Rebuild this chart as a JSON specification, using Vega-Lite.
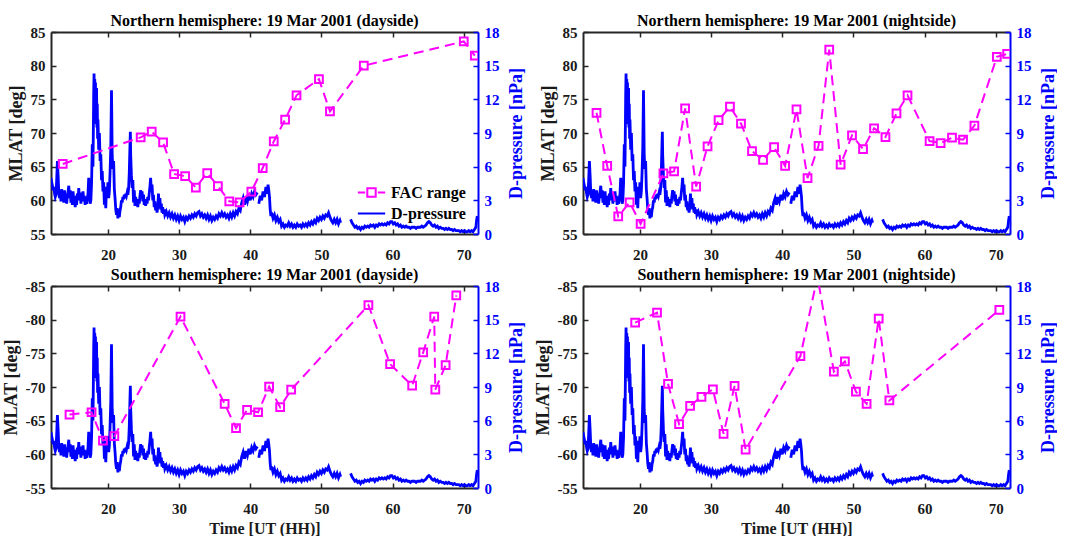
{
"$schema": "https://vega.github.io/schema/vega-lite/v6.json",
"padding": {"left": 2, "top": 13, "right": 0, "bottom": 0},
"columns": 2,
"spacing": {"row": 5, "column": 9},
"resolve": {"scale": {"x": "independent", "y": "independent", "color": "independent"}},
"config": {
  "view": {"stroke": null},
  "font": "Liberation Serif",
  "axis": {"grid": false, "labelFont": "Liberation Serif", "labelFontSize": 15, "labelFontWeight": "bold", "labelColor": "#1a1a1a", "titleFont": "Liberation Serif", "titleFontWeight": "bold", "titleColor": "#1a1a1a", "domainColor": "#262626", "domainWidth": 2, "tickColor": "#262626", "tickWidth": 1.5, "tickSize": -5, "labelPadding": 11},
  "axisX": {"labelPadding": 18, "titleFontSize": 16, "titlePadding": 4},
  "axisY": {"titleFontSize": 18, "titlePadding": 5},
  "title": {"font": "Liberation Serif", "fontSize": 16, "fontWeight": "bold", "color": "#000000", "offset": -4, "frame": "group", "anchor": "middle"}
},
"datasets": {
"dp": [
{"t":12.0,"p":5.0,"s":"a"},{"t":12.1,"p":4.6,"s":"a"},{"t":12.2,"p":4.3,"s":"a"},{"t":12.3,"p":3.9,"s":"a"},{"t":12.4,"p":4.2,"s":"a"},{"t":12.5,"p":3.6,"s":"a"},{"t":12.6,"p":3.3,"s":"a"},{"t":12.7,"p":3.5,"s":"a"},{"t":12.8,"p":4.8,"s":"a"},{"t":12.9,"p":6.5,"s":"a"},
{"t":13.0,"p":5.2,"s":"a"},{"t":13.1,"p":3.6,"s":"a"},{"t":13.2,"p":3.2,"s":"a"},{"t":13.3,"p":3.9,"s":"a"},{"t":13.4,"p":2.9,"s":"a"},{"t":13.5,"p":4.0,"s":"a"},{"t":13.6,"p":3.1,"s":"a"},{"t":13.7,"p":3.7,"s":"a"},{"t":13.8,"p":2.8,"s":"a"},{"t":13.9,"p":3.9,"s":"a"},
{"t":14.0,"p":3.0,"s":"a"},{"t":14.1,"p":3.6,"s":"a"},{"t":14.2,"p":2.7,"s":"a"},{"t":14.3,"p":3.4,"s":"a"},{"t":14.4,"p":3.8,"s":"a"},{"t":14.5,"p":4.3,"s":"a"},{"t":14.6,"p":3.2,"s":"a"},{"t":14.7,"p":3.9,"s":"a"},{"t":14.8,"p":2.8,"s":"a"},{"t":14.9,"p":3.5,"s":"a"},
{"t":15.0,"p":2.6,"s":"a"},{"t":15.1,"p":3.8,"s":"a"},{"t":15.2,"p":2.9,"s":"a"},{"t":15.3,"p":3.4,"s":"a"},{"t":15.4,"p":2.4,"s":"a"},{"t":15.5,"p":3.2,"s":"a"},{"t":15.6,"p":2.6,"s":"a"},{"t":15.7,"p":3.6,"s":"a"},{"t":15.8,"p":3.0,"s":"a"},{"t":15.9,"p":4.1,"s":"a"},
{"t":16.0,"p":3.1,"s":"a"},{"t":16.1,"p":3.7,"s":"a"},{"t":16.2,"p":2.7,"s":"a"},{"t":16.3,"p":3.5,"s":"a"},{"t":16.4,"p":2.9,"s":"a"},{"t":16.5,"p":3.8,"s":"a"},{"t":16.6,"p":3.0,"s":"a"},{"t":16.7,"p":3.4,"s":"a"},{"t":16.8,"p":2.6,"s":"a"},{"t":16.9,"p":3.3,"s":"a"},
{"t":17.0,"p":2.7,"s":"a"},{"t":17.1,"p":3.2,"s":"a"},{"t":17.2,"p":3.6,"s":"a"},{"t":17.3,"p":5.0,"s":"a"},{"t":17.4,"p":3.3,"s":"a"},{"t":17.5,"p":2.7,"s":"a"},{"t":17.6,"p":3.0,"s":"a"},{"t":17.7,"p":4.5,"s":"a"},{"t":17.8,"p":8.0,"s":"a"},{"t":17.9,"p":6.0,"s":"a"},
{"t":18.0,"p":12.5,"s":"a"},{"t":18.05,"p":14.3,"s":"a"},{"t":18.1,"p":11.0,"s":"a"},{"t":18.15,"p":13.8,"s":"a"},{"t":18.2,"p":10.5,"s":"a"},{"t":18.25,"p":13.5,"s":"a"},{"t":18.3,"p":9.8,"s":"a"},{"t":18.35,"p":12.0,"s":"a"},{"t":18.4,"p":13.0,"s":"a"},{"t":18.45,"p":9.5,"s":"a"},
{"t":18.5,"p":11.6,"s":"a"},{"t":18.55,"p":8.5,"s":"a"},{"t":18.6,"p":10.2,"s":"a"},{"t":18.7,"p":7.5,"s":"a"},{"t":18.8,"p":9.0,"s":"a"},{"t":18.9,"p":6.5,"s":"a"},{"t":19.0,"p":7.1,"s":"a"},{"t":19.1,"p":4.8,"s":"a"},{"t":19.2,"p":5.6,"s":"a"},{"t":19.3,"p":3.8,"s":"a"},
{"t":19.4,"p":4.6,"s":"a"},{"t":19.5,"p":2.6,"s":"a"},{"t":19.6,"p":3.3,"s":"a"},{"t":19.7,"p":2.3,"s":"a"},{"t":19.8,"p":4.2,"s":"a"},{"t":19.9,"p":3.4,"s":"a"},{"t":20.0,"p":4.6,"s":"a"},{"t":20.1,"p":3.2,"s":"a"},{"t":20.2,"p":3.8,"s":"a"},{"t":20.3,"p":5.5,"s":"a"},
{"t":20.4,"p":7.7,"s":"a"},{"t":20.5,"p":12.8,"s":"a"},{"t":20.55,"p":10.0,"s":"a"},{"t":20.6,"p":7.0,"s":"a"},{"t":20.7,"p":5.8,"s":"a"},{"t":20.8,"p":6.5,"s":"a"},{"t":20.9,"p":4.0,"s":"a"},{"t":21.0,"p":3.2,"s":"a"},{"t":21.1,"p":2.2,"s":"a"},{"t":21.2,"p":1.7,"s":"a"},
{"t":21.3,"p":2.3,"s":"a"},{"t":21.4,"p":1.4,"s":"a"},{"t":21.5,"p":1.8,"s":"a"},{"t":21.6,"p":1.5,"s":"a"},{"t":21.7,"p":2.1,"s":"a"},{"t":21.8,"p":2.4,"s":"a"},{"t":21.9,"p":3.0,"s":"a"},{"t":22.0,"p":2.8,"s":"a"},{"t":22.1,"p":3.3,"s":"a"},{"t":22.2,"p":3.1,"s":"a"},
{"t":22.3,"p":3.5,"s":"a"},{"t":22.4,"p":3.2,"s":"a"},{"t":22.5,"p":3.6,"s":"a"},{"t":22.6,"p":3.4,"s":"a"},{"t":22.7,"p":3.7,"s":"a"},{"t":22.8,"p":3.5,"s":"a"},{"t":22.9,"p":4.0,"s":"a"},{"t":23.0,"p":5.5,"s":"a"},{"t":23.1,"p":8.0,"s":"a"},{"t":23.15,"p":9.1,"s":"a"},
{"t":23.2,"p":7.0,"s":"a"},{"t":23.3,"p":5.2,"s":"a"},{"t":23.4,"p":4.1,"s":"a"},{"t":23.5,"p":4.8,"s":"a"},{"t":23.6,"p":2.8,"s":"a"},{"t":23.7,"p":3.9,"s":"a"},{"t":23.8,"p":2.5,"s":"a"},{"t":23.9,"p":3.3,"s":"a"},{"t":24.0,"p":2.6,"s":"a"},{"t":24.1,"p":3.0,"s":"a"},
{"t":24.2,"p":2.4,"s":"a"},{"t":24.3,"p":3.1,"s":"a"},{"t":24.4,"p":2.7,"s":"a"},{"t":24.5,"p":3.4,"s":"a"},{"t":24.6,"p":3.9,"s":"a"},{"t":24.7,"p":3.2,"s":"a"},{"t":24.8,"p":3.8,"s":"a"},{"t":24.9,"p":2.9,"s":"a"},{"t":25.0,"p":3.5,"s":"a"},{"t":25.1,"p":2.6,"s":"a"},
{"t":25.2,"p":3.1,"s":"a"},{"t":25.3,"p":2.5,"s":"a"},{"t":25.4,"p":3.0,"s":"a"},{"t":25.5,"p":2.7,"s":"a"},{"t":25.6,"p":3.3,"s":"a"},{"t":25.7,"p":3.0,"s":"a"},{"t":25.8,"p":3.6,"s":"a"},{"t":25.9,"p":4.2,"s":"a"},{"t":26.0,"p":5.0,"s":"a"},{"t":26.1,"p":3.8,"s":"a"},
{"t":26.2,"p":4.4,"s":"a"},{"t":26.3,"p":3.0,"s":"a"},{"t":26.4,"p":3.5,"s":"a"},{"t":26.5,"p":2.4,"s":"a"},{"t":26.6,"p":2.9,"s":"a"},{"t":26.7,"p":2.1,"s":"a"},{"t":26.8,"p":2.6,"s":"a"},{"t":26.9,"p":1.9,"s":"a"},{"t":27.0,"p":2.4,"s":"a"},{"t":27.1,"p":3.6,"s":"a"},
{"t":27.2,"p":2.5,"s":"a"},{"t":27.3,"p":3.2,"s":"a"},{"t":27.4,"p":2.2,"s":"a"},{"t":27.5,"p":2.7,"s":"a"},{"t":27.6,"p":1.9,"s":"a"},{"t":27.7,"p":2.4,"s":"a"},{"t":27.8,"p":1.8,"s":"a"},{"t":27.9,"p":2.2,"s":"a"},{"t":28.0,"p":1.7,"s":"a"},
{"t":28.2,"p":2.0,"s":"a"},{"t":28.4,"p":1.6,"s":"a"},{"t":28.6,"p":1.9,"s":"a"},{"t":28.8,"p":1.5,"s":"a"},{"t":29.0,"p":1.8,"s":"a"},{"t":29.2,"p":1.4,"s":"a"},{"t":29.4,"p":1.7,"s":"a"},{"t":29.6,"p":1.3,"s":"a"},{"t":29.8,"p":1.6,"s":"a"},{"t":30.0,"p":1.2,"s":"a"},
{"t":30.2,"p":1.6,"s":"a"},{"t":30.4,"p":1.3,"s":"a"},{"t":30.6,"p":1.5,"s":"a"},{"t":30.8,"p":1.1,"s":"a"},{"t":31.0,"p":1.5,"s":"a"},{"t":31.2,"p":1.3,"s":"a"},{"t":31.4,"p":1.6,"s":"a"},{"t":31.6,"p":1.4,"s":"a"},{"t":31.8,"p":1.7,"s":"a"},{"t":32.0,"p":1.5,"s":"a"},
{"t":32.2,"p":1.8,"s":"a"},{"t":32.4,"p":1.6,"s":"a"},{"t":32.6,"p":1.9,"s":"a"},{"t":32.8,"p":2.0,"s":"a"},{"t":33.0,"p":1.6,"s":"a"},{"t":33.2,"p":1.8,"s":"a"},{"t":33.4,"p":1.5,"s":"a"},{"t":33.6,"p":1.7,"s":"a"},{"t":33.8,"p":1.4,"s":"a"},{"t":34.0,"p":1.7,"s":"a"},
{"t":34.2,"p":1.3,"s":"a"},{"t":34.4,"p":1.6,"s":"a"},{"t":34.6,"p":1.2,"s":"a"},{"t":34.8,"p":1.5,"s":"a"},{"t":35.0,"p":1.3,"s":"a"},{"t":35.2,"p":1.6,"s":"a"},{"t":35.4,"p":1.4,"s":"a"},{"t":35.6,"p":1.8,"s":"a"},{"t":35.8,"p":1.6,"s":"a"},{"t":36.0,"p":1.9,"s":"a"},
{"t":36.2,"p":1.6,"s":"a"},{"t":36.4,"p":1.8,"s":"a"},{"t":36.6,"p":1.5,"s":"a"},{"t":36.8,"p":1.7,"s":"a"},{"t":37.0,"p":1.4,"s":"a"},{"t":37.2,"p":1.8,"s":"a"},{"t":37.4,"p":1.5,"s":"a"},{"t":37.6,"p":1.9,"s":"a"},{"t":37.8,"p":1.6,"s":"a"},{"t":38.0,"p":2.0,"s":"a"},
{"t":38.2,"p":1.8,"s":"a"},{"t":38.4,"p":2.3,"s":"a"},{"t":38.6,"p":2.1,"s":"a"},{"t":38.8,"p":2.8,"s":"a"},{"t":39.0,"p":3.2,"s":"a"},{"t":39.2,"p":2.6,"s":"a"},{"t":39.4,"p":3.3,"s":"a"},{"t":39.6,"p":2.9,"s":"a"},{"t":39.8,"p":3.5,"s":"a"},{"t":40.0,"p":3.0,"s":"a"},
{"t":40.2,"p":3.6,"s":"a"},{"t":40.4,"p":3.3,"s":"a"},{"t":40.6,"p":3.8,"s":"a"},{"t":40.8,"p":3.5,"s":"a"},{"t":41.0,"p":3.7,"s":"a"},
{"t":41.2,"p":2.7,"s":"b"},{"t":41.4,"p":3.4,"s":"b"},{"t":41.6,"p":3.0,"s":"b"},{"t":41.8,"p":3.8,"s":"b"},{"t":42.0,"p":3.3,"s":"b"},{"t":42.2,"p":4.2,"s":"b"},{"t":42.4,"p":3.6,"s":"b"},{"t":42.5,"p":4.4,"s":"b"},{"t":42.6,"p":3.9,"s":"b"},{"t":42.7,"p":3.3,"s":"b"},
{"t":42.8,"p":2.2,"s":"b"},{"t":42.9,"p":1.6,"s":"b"},{"t":43.0,"p":1.9,"s":"b"},{"t":43.2,"p":1.4,"s":"b"},{"t":43.4,"p":1.7,"s":"b"},{"t":43.6,"p":1.2,"s":"b"},{"t":43.8,"p":1.5,"s":"b"},{"t":44.0,"p":1.1,"s":"b"},{"t":44.2,"p":1.3,"s":"b"},{"t":44.4,"p":0.7,"s":"b"},
{"t":44.6,"p":0.9,"s":"b"},{"t":44.8,"p":0.6,"s":"b"},{"t":45.0,"p":0.8,"s":"b"},{"t":45.2,"p":0.7,"s":"b"},{"t":45.4,"p":1.0,"s":"b"},{"t":45.6,"p":0.7,"s":"b"},{"t":45.8,"p":0.9,"s":"b"},{"t":46.0,"p":0.6,"s":"b"},{"t":46.2,"p":0.8,"s":"b"},{"t":46.4,"p":0.6,"s":"b"},
{"t":46.6,"p":0.9,"s":"b"},{"t":46.8,"p":0.7,"s":"b"},{"t":47.0,"p":0.8,"s":"b"},{"t":47.2,"p":0.6,"s":"b"},{"t":47.4,"p":0.9,"s":"b"},{"t":47.6,"p":0.7,"s":"b"},{"t":47.8,"p":0.9,"s":"b"},{"t":48.0,"p":0.7,"s":"b"},{"t":48.2,"p":1.0,"s":"b"},{"t":48.4,"p":0.8,"s":"b"},
{"t":48.6,"p":1.1,"s":"b"},{"t":48.8,"p":0.9,"s":"b"},{"t":49.0,"p":1.2,"s":"b"},{"t":49.2,"p":1.0,"s":"b"},{"t":49.4,"p":1.4,"s":"b"},{"t":49.6,"p":1.2,"s":"b"},{"t":49.8,"p":1.5,"s":"b"},{"t":50.0,"p":1.3,"s":"b"},{"t":50.2,"p":1.6,"s":"b"},{"t":50.4,"p":1.4,"s":"b"},
{"t":50.6,"p":1.7,"s":"b"},{"t":50.8,"p":1.6,"s":"b"},{"t":51.0,"p":1.9,"s":"b"},{"t":51.2,"p":1.5,"s":"b"},{"t":51.4,"p":1.2,"s":"b"},{"t":51.6,"p":1.0,"s":"b"},{"t":51.8,"p":1.3,"s":"b"},{"t":52.0,"p":1.0,"s":"b"},{"t":52.2,"p":1.3,"s":"b"},{"t":52.4,"p":0.9,"s":"b"},
{"t":52.6,"p":1.2,"s":"b"},{"t":52.7,"p":1.0,"s":"b"},
{"t":54.1,"p":1.3,"s":"c"},{"t":54.3,"p":1.0,"s":"c"},{"t":54.5,"p":0.8,"s":"c"},{"t":54.7,"p":0.6,"s":"c"},{"t":54.9,"p":0.7,"s":"c"},{"t":55.1,"p":0.5,"s":"c"},{"t":55.3,"p":0.6,"s":"c"},{"t":55.5,"p":0.4,"s":"c"},{"t":55.7,"p":0.6,"s":"c"},{"t":55.9,"p":0.5,"s":"c"},
{"t":56.1,"p":0.7,"s":"c"},{"t":56.3,"p":0.6,"s":"c"},{"t":56.5,"p":0.7,"s":"c"},{"t":56.7,"p":0.6,"s":"c"},{"t":56.9,"p":0.8,"s":"c"},{"t":57.1,"p":0.7,"s":"c"},{"t":57.3,"p":0.8,"s":"c"},{"t":57.5,"p":0.6,"s":"c"},{"t":57.7,"p":0.8,"s":"c"},{"t":57.9,"p":0.7,"s":"c"},
{"t":58.1,"p":0.9,"s":"c"},{"t":58.3,"p":0.8,"s":"c"},{"t":58.5,"p":0.9,"s":"c"},{"t":58.7,"p":0.8,"s":"c"},{"t":58.9,"p":0.9,"s":"c"},{"t":59.1,"p":0.8,"s":"c"},{"t":59.3,"p":1.0,"s":"c"},{"t":59.5,"p":0.9,"s":"c"},{"t":59.7,"p":1.1,"s":"c"},{"t":59.9,"p":1.1,"s":"c"},
{"t":60.1,"p":0.9,"s":"c"},{"t":60.3,"p":1.0,"s":"c"},{"t":60.5,"p":0.8,"s":"c"},{"t":60.7,"p":0.9,"s":"c"},{"t":60.9,"p":0.7,"s":"c"},{"t":61.1,"p":0.8,"s":"c"},{"t":61.3,"p":0.6,"s":"c"},{"t":61.5,"p":0.7,"s":"c"},{"t":61.7,"p":0.6,"s":"c"},{"t":61.9,"p":0.7,"s":"c"},
{"t":62.1,"p":0.6,"s":"c"},{"t":62.3,"p":0.6,"s":"c"},{"t":62.5,"p":0.5,"s":"c"},{"t":62.7,"p":0.6,"s":"c"},{"t":62.9,"p":0.6,"s":"c"},{"t":63.1,"p":0.6,"s":"c"},{"t":63.3,"p":0.5,"s":"c"},{"t":63.5,"p":0.6,"s":"c"},{"t":63.7,"p":0.6,"s":"c"},{"t":63.9,"p":0.6,"s":"c"},
{"t":64.1,"p":0.7,"s":"c"},{"t":64.3,"p":0.6,"s":"c"},{"t":64.5,"p":0.7,"s":"c"},{"t":64.7,"p":0.8,"s":"c"},{"t":64.9,"p":1.0,"s":"c"},{"t":65.1,"p":1.1,"s":"c"},{"t":65.3,"p":1.0,"s":"c"},{"t":65.5,"p":0.8,"s":"c"},{"t":65.7,"p":0.7,"s":"c"},{"t":65.9,"p":0.8,"s":"c"},
{"t":66.1,"p":0.6,"s":"c"},{"t":66.3,"p":0.7,"s":"c"},{"t":66.5,"p":0.5,"s":"c"},{"t":66.7,"p":0.6,"s":"c"},{"t":66.9,"p":0.5,"s":"c"},{"t":67.1,"p":0.5,"s":"c"},{"t":67.3,"p":0.4,"s":"c"},{"t":67.5,"p":0.5,"s":"c"},{"t":67.7,"p":0.4,"s":"c"},{"t":67.9,"p":0.5,"s":"c"},
{"t":68.1,"p":0.4,"s":"c"},{"t":68.3,"p":0.4,"s":"c"},{"t":68.5,"p":0.3,"s":"c"},{"t":68.7,"p":0.4,"s":"c"},{"t":68.9,"p":0.3,"s":"c"},{"t":69.1,"p":0.3,"s":"c"},{"t":69.3,"p":0.3,"s":"c"},{"t":69.5,"p":0.2,"s":"c"},{"t":69.7,"p":0.3,"s":"c"},{"t":69.9,"p":0.2,"s":"c"},
{"t":70.1,"p":0.3,"s":"c"},{"t":70.3,"p":0.2,"s":"c"},{"t":70.5,"p":0.2,"s":"c"},{"t":70.7,"p":0.3,"s":"c"},{"t":70.9,"p":0.2,"s":"c"},{"t":71.1,"p":0.3,"s":"c"},{"t":71.3,"p":0.2,"s":"c"},{"t":71.5,"p":0.4,"s":"c"},{"t":71.7,"p":0.6,"s":"c"},{"t":71.8,"p":1.2,"s":"c"},{"t":71.9,"p":1.6,"s":"c"}
],
"fac": [
{"k":"nd","t":13.65,"m":65.4},{"k":"nd","t":24.6,"m":69.35},{"k":"nd","t":26.15,"m":70.2},{"k":"nd","t":27.75,"m":68.6},{"k":"nd","t":29.3,"m":63.9},{"k":"nd","t":30.85,"m":63.6},{"k":"nd","t":32.35,"m":61.9},{"k":"nd","t":33.95,"m":64.05},{"k":"nd","t":35.45,"m":62.1},{"k":"nd","t":37.05,"m":59.85},{"k":"nd","t":38.5,"m":59.7},{"k":"nd","t":40.15,"m":61.3},{"k":"nd","t":41.75,"m":64.8},{"k":"nd","t":43.3,"m":68.75},{"k":"nd","t":44.9,"m":72.0},{"k":"nd","t":46.5,"m":75.6},{"k":"nd","t":49.65,"m":78.0},{"k":"nd","t":51.2,"m":73.2},{"k":"nd","t":55.95,"m":80.0},{"k":"nd","t":70.0,"m":83.6},{"k":"nd","t":71.55,"m":81.5},
{"k":"nn","t":13.9,"m":73.0},{"k":"nn","t":15.4,"m":65.1},{"k":"nn","t":16.95,"m":57.6},{"k":"nn","t":18.55,"m":59.7},{"k":"nn","t":20.1,"m":56.5},{"k":"nn","t":23.3,"m":64.0},{"k":"nn","t":24.8,"m":64.3},{"k":"nn","t":26.35,"m":73.65},{"k":"nn","t":27.9,"m":62.05},{"k":"nn","t":29.5,"m":68.0},{"k":"nn","t":31.05,"m":71.9},{"k":"nn","t":32.65,"m":73.9},{"k":"nn","t":34.2,"m":71.4},{"k":"nn","t":35.75,"m":67.3},{"k":"nn","t":37.3,"m":66.0},{"k":"nn","t":38.85,"m":67.9},{"k":"nn","t":40.4,"m":65.1},{"k":"nn","t":42.0,"m":73.5},{"k":"nn","t":43.55,"m":63.3},{"k":"nn","t":45.1,"m":68.1},{"k":"nn","t":46.6,"m":82.4},{"k":"nn","t":48.2,"m":65.3},{"k":"nn","t":49.8,"m":69.65},{"k":"nn","t":51.35,"m":67.6},{"k":"nn","t":52.9,"m":70.7},{"k":"nn","t":54.5,"m":69.4},{"k":"nn","t":56.05,"m":72.9},{"k":"nn","t":57.6,"m":75.6},{"k":"nn","t":60.7,"m":68.8},{"k":"nn","t":62.25,"m":68.5},{"k":"nn","t":63.85,"m":69.3},{"k":"nn","t":65.4,"m":69.0},{"k":"nn","t":67.0,"m":71.1},{"k":"nn","t":70.15,"m":81.3},{"k":"nn","t":71.6,"m":81.75},
{"k":"sd","t":14.6,"m":-65.9},{"k":"sd","t":17.7,"m":-66.25},{"k":"sd","t":19.3,"m":-62.05},{"k":"sd","t":20.9,"m":-62.7},{"k":"sd","t":30.2,"m":-80.45},{"k":"sd","t":36.4,"m":-67.5},{"k":"sd","t":38.0,"m":-63.9},{"k":"sd","t":39.55,"m":-66.6},{"k":"sd","t":41.1,"m":-66.25},{"k":"sd","t":42.65,"m":-70.05},{"k":"sd","t":44.2,"m":-67.0},{"k":"sd","t":45.75,"m":-69.6},{"k":"sd","t":56.6,"m":-82.15},{"k":"sd","t":59.65,"m":-73.4},{"k":"sd","t":62.75,"m":-70.2},{"k":"sd","t":64.3,"m":-75.15},{"k":"sd","t":65.85,"m":-80.45},{"k":"sd","t":66.0,"m":-69.6},{"k":"sd","t":67.45,"m":-73.25},{"k":"sd","t":68.95,"m":-83.6},
{"k":"sn","t":19.33,"m":-79.57},{"k":"sn","t":22.4,"m":-81.05},{"k":"sn","t":23.95,"m":-70.45},{"k":"sn","t":25.5,"m":-64.5},{"k":"sn","t":27.05,"m":-67.2},{"k":"sn","t":28.65,"m":-68.55},{"k":"sn","t":30.25,"m":-69.65},{"k":"sn","t":31.75,"m":-63.05},{"k":"sn","t":33.3,"m":-70.15},{"k":"sn","t":34.85,"m":-60.7},{"k":"sn","t":42.55,"m":-74.6},{"k":"sn","t":44.95,"m":-86.4},{"k":"sn","t":47.25,"m":-72.3},{"k":"sn","t":48.8,"m":-73.8},{"k":"sn","t":50.35,"m":-69.3},{"k":"sn","t":51.85,"m":-67.5},{"k":"sn","t":53.55,"m":-80.15},{"k":"sn","t":55.05,"m":-68.0},{"k":"sn","t":70.5,"m":-81.45}
]
},
"concat": [
{
  "title": "Northern hemisphere: 19 Mar 2001 (dayside)",
  "width": 427, "height": 202,
  "layer": [
    {"data": {"name": "dp"}, "mark": {"type": "line", "strokeWidth": 2.8, "clip": true},
     "encoding": {
       "x": {"field": "t", "type": "quantitative", "scale": {"domain": [12, 72], "nice": false, "zero": false}, "axis": {"orient": "bottom", "values": [20,30,40,50,60,70], "title": null}},
       "y": {"field": "p", "type": "quantitative", "scale": {"domain": [0, 18], "nice": false}, "axis": {"orient": "right", "values": [0,3,6,9,12,15,18], "title": "D-pressure [nPa]", "titleAngle": -90, "titleBaseline": "top", "titlePadding": 8, "domainColor": "#0000ff", "tickColor": "#0000ff", "labelColor": "#0000ff", "titleColor": "#0000ff"}},
       "detail": {"field": "s", "type": "nominal"},
       "color": {"datum": "D-pressure", "scale": {"domain": ["FAC range", "D-pressure"], "range": ["#ff00ff", "#0000ff"]},
         "legend": {"orient": "bottom-right", "offset": 12, "padding": 0, "title": null, "labelFont": "Liberation Serif", "labelFontSize": 16, "labelFontWeight": "bold", "labelColor": "#000000", "symbolSize": 441, "labelOffset": 8, "rowPadding": 1,
           "encode": {"symbols": {"update": {"shape": {"signal": "datum.value === 'FAC range' ? 'M-1.3,0H-0.6M0.6,0H1.3M-0.4,-0.4H0.4V0.4H-0.4Z' : 'M-1.3,0H1.3'"}, "fill": {"value": "transparent"}, "strokeWidth": {"value": 2}, "strokeDash": {"value": []}, "opacity": {"value": 1}}}}}}
     }},
    {"data": {"name": "fac"}, "transform": [{"filter": "datum.k == 'nd'"}], "mark": {"type": "line", "strokeWidth": 2, "strokeDash": [10, 6], "clip": true},
     "encoding": {
       "x": {"field": "t", "type": "quantitative", "scale": {"domain": [12, 72], "nice": false, "zero": false}, "axis": {"orient": "top", "values": [20,30,40,50,60,70], "labels": false, "title": null}},
       "y": {"field": "m", "type": "quantitative", "scale": {"domain": [55, 85], "nice": false, "zero": false}, "axis": {"orient": "left", "values": [55,60,65,70,75,80,85], "title": "MLAT [deg]"}},
       "color": {"datum": "FAC range"}
     }},
    {"data": {"name": "fac"}, "transform": [{"filter": "datum.k == 'nd'"}], "mark": {"type": "point", "shape": "square", "size": 60, "filled": false, "strokeWidth": 2, "opacity": 1, "clip": true},
     "encoding": {
       "x": {"field": "t", "type": "quantitative", "scale": {"domain": [12, 72], "nice": false, "zero": false}, "axis": null},
       "y": {"field": "m", "type": "quantitative", "scale": {"domain": [55, 85], "nice": false, "zero": false}, "axis": null},
       "color": {"datum": "FAC range"}
     }}
  ],
  "resolve": {"scale": {"y": "independent"}, "axis": {"x": "independent", "y": "independent"}}
},
{
  "title": "Northern hemisphere: 19 Mar 2001 (nightside)",
  "width": 427, "height": 202,
  "layer": [
    {"data": {"name": "dp"}, "mark": {"type": "line", "color": "#0000ff", "strokeWidth": 2.8, "clip": true},
     "encoding": {
       "x": {"field": "t", "type": "quantitative", "scale": {"domain": [12, 72], "nice": false, "zero": false}, "axis": {"orient": "bottom", "values": [20,30,40,50,60,70], "title": null}},
       "y": {"field": "p", "type": "quantitative", "scale": {"domain": [0, 18], "nice": false}, "axis": {"orient": "right", "values": [0,3,6,9,12,15,18], "title": "D-pressure [nPa]", "titleAngle": -90, "titleBaseline": "top", "titlePadding": 8, "domainColor": "#0000ff", "tickColor": "#0000ff", "labelColor": "#0000ff", "titleColor": "#0000ff"}},
       "detail": {"field": "s", "type": "nominal"}
     }},
    {"data": {"name": "fac"}, "transform": [{"filter": "datum.k == 'nn'"}], "mark": {"type": "line", "color": "#ff00ff", "strokeWidth": 2, "strokeDash": [10, 6], "clip": true},
     "encoding": {
       "x": {"field": "t", "type": "quantitative", "scale": {"domain": [12, 72], "nice": false, "zero": false}, "axis": {"orient": "top", "values": [20,30,40,50,60,70], "labels": false, "title": null}},
       "y": {"field": "m", "type": "quantitative", "scale": {"domain": [55, 85], "nice": false, "zero": false}, "axis": {"orient": "left", "values": [55,60,65,70,75,80,85], "title": "MLAT [deg]"}}
     }},
    {"data": {"name": "fac"}, "transform": [{"filter": "datum.k == 'nn'"}], "mark": {"type": "point", "shape": "square", "size": 60, "filled": false, "color": "#ff00ff", "strokeWidth": 2, "opacity": 1, "clip": true},
     "encoding": {
       "x": {"field": "t", "type": "quantitative", "scale": {"domain": [12, 72], "nice": false, "zero": false}, "axis": null},
       "y": {"field": "m", "type": "quantitative", "scale": {"domain": [55, 85], "nice": false, "zero": false}, "axis": null}
     }}
  ],
  "resolve": {"scale": {"y": "independent"}, "axis": {"x": "independent", "y": "independent"}}
},
{
  "title": "Southern hemisphere: 19 Mar 2001 (dayside)",
  "width": 427, "height": 202,
  "layer": [
    {"data": {"name": "dp"}, "mark": {"type": "line", "color": "#0000ff", "strokeWidth": 2.8, "clip": true},
     "encoding": {
       "x": {"field": "t", "type": "quantitative", "scale": {"domain": [12, 72], "nice": false, "zero": false}, "axis": {"orient": "bottom", "values": [20,30,40,50,60,70], "title": "Time [UT (HH)]"}},
       "y": {"field": "p", "type": "quantitative", "scale": {"domain": [0, 18], "nice": false}, "axis": {"orient": "right", "values": [0,3,6,9,12,15,18], "title": "D-pressure [nPa]", "titleAngle": -90, "titleBaseline": "top", "titlePadding": 8, "domainColor": "#0000ff", "tickColor": "#0000ff", "labelColor": "#0000ff", "titleColor": "#0000ff"}},
       "detail": {"field": "s", "type": "nominal"}
     }},
    {"data": {"name": "fac"}, "transform": [{"filter": "datum.k == 'sd'"}], "mark": {"type": "line", "color": "#ff00ff", "strokeWidth": 2, "strokeDash": [10, 6], "clip": true},
     "encoding": {
       "x": {"field": "t", "type": "quantitative", "scale": {"domain": [12, 72], "nice": false, "zero": false}, "axis": {"orient": "top", "values": [20,30,40,50,60,70], "labels": false, "title": null}},
       "y": {"field": "m", "type": "quantitative", "scale": {"domain": [-85, -55], "nice": false, "zero": false, "reverse": true}, "axis": {"orient": "left", "values": [-85,-80,-75,-70,-65,-60,-55], "labelExpr": "'-' + abs(datum.value)", "title": "MLAT [deg]"}}
     }},
    {"data": {"name": "fac"}, "transform": [{"filter": "datum.k == 'sd'"}], "mark": {"type": "point", "shape": "square", "size": 60, "filled": false, "color": "#ff00ff", "strokeWidth": 2, "opacity": 1, "clip": true},
     "encoding": {
       "x": {"field": "t", "type": "quantitative", "scale": {"domain": [12, 72], "nice": false, "zero": false}, "axis": null},
       "y": {"field": "m", "type": "quantitative", "scale": {"domain": [-85, -55], "nice": false, "zero": false, "reverse": true}, "axis": null}
     }}
  ],
  "resolve": {"scale": {"y": "independent"}, "axis": {"x": "independent", "y": "independent"}}
},
{
  "title": "Southern hemisphere: 19 Mar 2001 (nightside)",
  "width": 427, "height": 202,
  "layer": [
    {"data": {"name": "dp"}, "mark": {"type": "line", "color": "#0000ff", "strokeWidth": 2.8, "clip": true},
     "encoding": {
       "x": {"field": "t", "type": "quantitative", "scale": {"domain": [12, 72], "nice": false, "zero": false}, "axis": {"orient": "bottom", "values": [20,30,40,50,60,70], "title": "Time [UT (HH)]"}},
       "y": {"field": "p", "type": "quantitative", "scale": {"domain": [0, 18], "nice": false}, "axis": {"orient": "right", "values": [0,3,6,9,12,15,18], "title": "D-pressure [nPa]", "titleAngle": -90, "titleBaseline": "top", "titlePadding": 8, "domainColor": "#0000ff", "tickColor": "#0000ff", "labelColor": "#0000ff", "titleColor": "#0000ff"}},
       "detail": {"field": "s", "type": "nominal"}
     }},
    {"data": {"name": "fac"}, "transform": [{"filter": "datum.k == 'sn'"}], "mark": {"type": "line", "color": "#ff00ff", "strokeWidth": 2, "strokeDash": [10, 6], "clip": true},
     "encoding": {
       "x": {"field": "t", "type": "quantitative", "scale": {"domain": [12, 72], "nice": false, "zero": false}, "axis": {"orient": "top", "values": [20,30,40,50,60,70], "labels": false, "title": null}},
       "y": {"field": "m", "type": "quantitative", "scale": {"domain": [-85, -55], "nice": false, "zero": false, "reverse": true}, "axis": {"orient": "left", "values": [-85,-80,-75,-70,-65,-60,-55], "labelExpr": "'-' + abs(datum.value)", "title": "MLAT [deg]"}}
     }},
    {"data": {"name": "fac"}, "transform": [{"filter": "datum.k == 'sn'"}], "mark": {"type": "point", "shape": "square", "size": 60, "filled": false, "color": "#ff00ff", "strokeWidth": 2, "opacity": 1, "clip": true},
     "encoding": {
       "x": {"field": "t", "type": "quantitative", "scale": {"domain": [12, 72], "nice": false, "zero": false}, "axis": null},
       "y": {"field": "m", "type": "quantitative", "scale": {"domain": [-85, -55], "nice": false, "zero": false, "reverse": true}, "axis": null}
     }}
  ],
  "resolve": {"scale": {"y": "independent"}, "axis": {"x": "independent", "y": "independent"}}
}
]
}
